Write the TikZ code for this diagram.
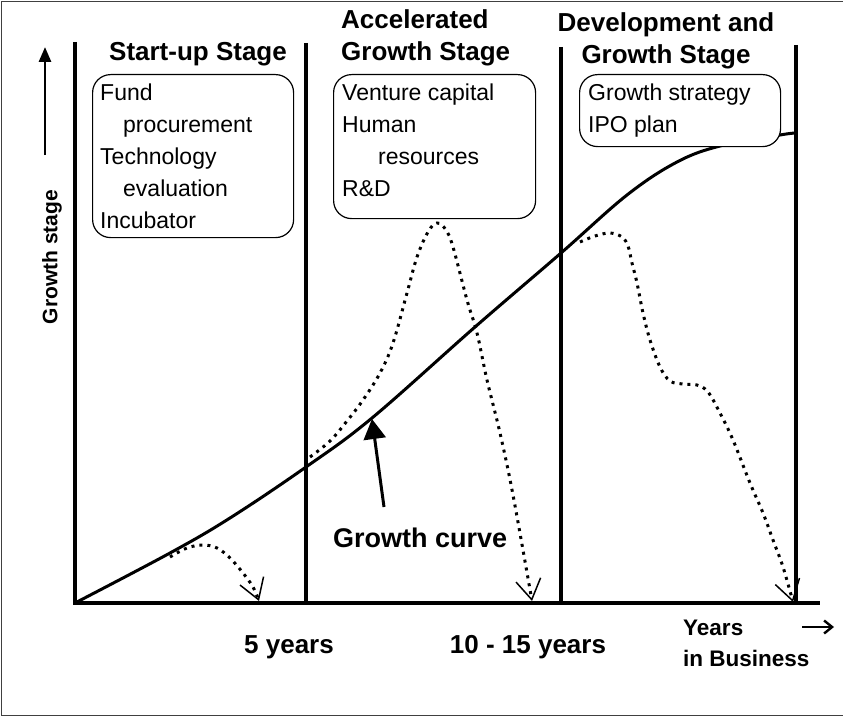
\documentclass[tikz,border=0pt]{standalone}
\usepackage{fontspec}
\setmainfont{Liberation Sans}
\usetikzlibrary{arrows.meta,positioning}

\begin{document}
\begin{tikzpicture}[x=1pt,y=-1pt,
  stagebox/.style={draw,rounded corners=18pt,line width=1.2pt,fill=white,anchor=north west,inner sep=0pt},
  boxtext/.style={align=left,anchor=north west,inner sep=0pt,font=\fontsize{23}{32}\selectfont},
  stagetitle/.style={font=\fontsize{26}{32}\selectfont\bfseries,inner sep=0pt},
  dotcurve/.style={line width=3pt,dash pattern=on 3pt off 5pt,-{Straight Barb[length=20pt,width=25pt,line width=1.5pt]}}]
\useasboundingbox (0,0) rectangle (843,717);
\draw[line width=1.5pt,black!75] (843,1.5) -- (1.5,1.5) -- (1.5,715.5) -- (843,715.5);

\draw[line width=3.2pt] (75,42) -- (75,603) -- (820,603);
\draw[line width=3.2pt] (306,43) -- (306,603);
\draw[line width=3.2pt] (561,47) -- (561,603);
\draw[line width=3.2pt] (796,45) -- (796,603);

\draw[line width=3pt] plot[smooth,tension=0.6] coordinates {(75,603) (170,553) (230,518) (306,467) (372,418) (475,327) (561,253) (627,195) (677,162) (720,146) (780,135) (796,133)};

\draw[dotcurve] plot[smooth,tension=0.6] coordinates {(170,557) (187,548) (203,545) (217,548) (230,558) (243,573) (253,587) (259,601)};
\draw[dotcurve] plot[smooth,tension=0.6] coordinates {(310,457) (330,441) (347,421) (363,400) (380,373) (393,343) (407,293) (417,257) (428,232) (437,223) (446,230) (453,247) (467,300) (477,333) (487,380) (500,433) (513,495) (532,601)};
\draw[dotcurve] plot[smooth,tension=0.6] coordinates {(580,242) (595,236) (610,233) (622,237) (628,246) (632,263) (637,283) (643,313) (650,340) (660,367) (670,381) (683,384) (697,385) (708,392) (720,413) (733,440) (750,483) (763,513) (773,540) (783,567) (793,602)};

\node[stagebox,minimum width=201pt,minimum height=163pt] (startbox) at (92,74) {};
\node[stagebox,minimum width=202pt,minimum height=144pt] (accelbox) at (333,74) {};
\node[stagebox,minimum width=201pt,minimum height=72pt] (devbox) at (579,74) {};
\node[boxtext] (starttext) at ([xshift=8pt,yshift=-10pt]startbox.north west) {Fund\\\hspace*{23pt}procurement\\Technology\\\hspace*{23pt}evaluation\\Incubator};
\node[boxtext] (acceltext) at ([xshift=9pt,yshift=-10pt]accelbox.north west) {Venture capital\\Human\\\hspace*{36pt}resources\\R\&D};
\node[boxtext] (devtext) at ([xshift=9pt,yshift=-10pt]devbox.north west) {Growth strategy\\IPO plan};

\node[stagetitle,anchor=base] (starttitle) at (198,60) {Start-up Stage};
\node[stagetitle,align=left,anchor=north west] (acceltitle) at (341,9.5) {Accelerated\\Growth Stage};
\node[stagetitle,align=center,anchor=north] (devtitle) at (666,12.5) {Development and\\Growth Stage};

\node[rotate=90,font=\fontsize{21}{25}\selectfont\bfseries] (ylabel) at (52,257) {Growth stage};
\coordinate (ytail) at (45,155);
\coordinate (yhead) at (45,47);
\draw[line width=2.8pt,-{Triangle[length=15pt,width=12pt]}] (ytail) -- (yhead);

\node[font=\fontsize{27}{32}\selectfont\bfseries,anchor=base west,inner sep=0pt] (gclabel) at (333,547) {Growth curve};
\coordinate (gctail) at (384,507);
\coordinate (gctip) at (372,419);
\draw[line width=3pt,-{Triangle[length=20pt,width=22pt]}] (gctail) -- (gctip);

\node[stagetitle,anchor=base] (fiveyears) at (289,653) {5 years};
\node[stagetitle,anchor=base] (tenyears) at (528,653) {10 - 15 years};
\node[font=\fontsize{22.5}{31}\selectfont\bfseries,align=left,anchor=north west,inner sep=0pt] (years) at (683,620) {Years\\in Business};
\coordinate (xtail) at (802,627);
\coordinate (xhead) at (834,627);
\draw[line width=2.4pt,-{Straight Barb[length=8pt,width=13pt]}] (xtail) -- (xhead);
\end{tikzpicture}
\end{document}
